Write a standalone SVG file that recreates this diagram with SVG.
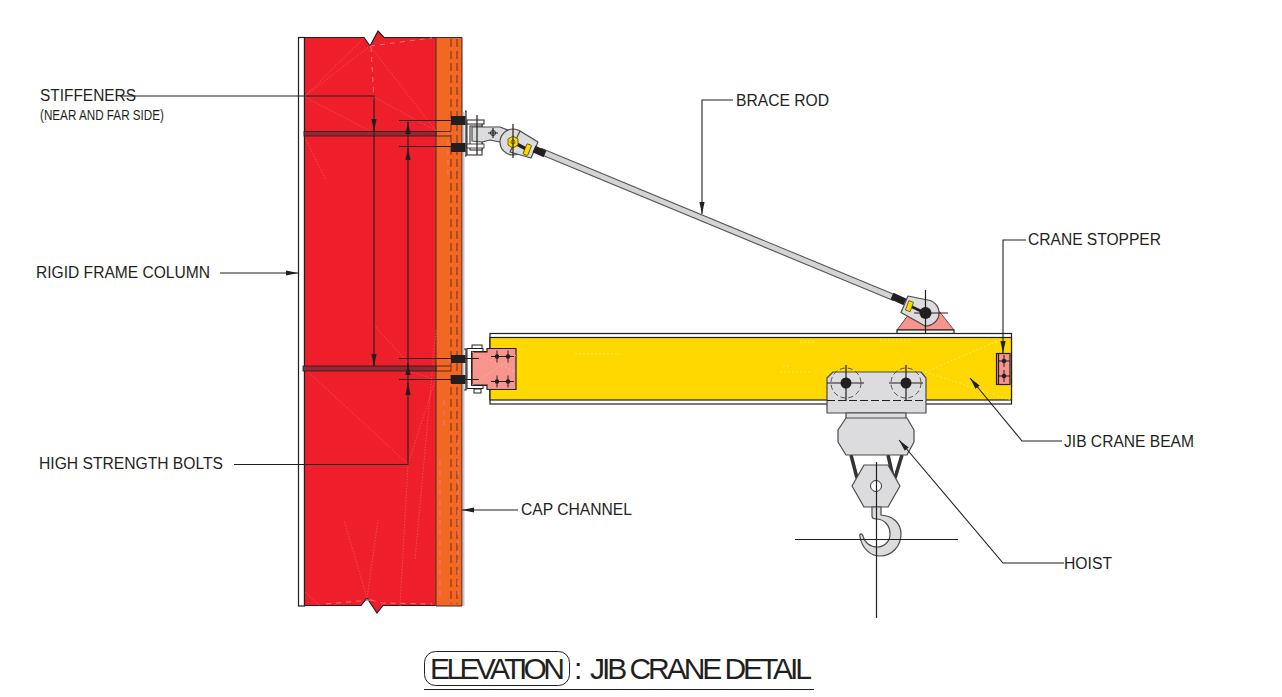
<svg xmlns="http://www.w3.org/2000/svg" width="1282" height="697" viewBox="0 0 1282 697">
<style>
text{font-family:"Liberation Sans",Arial,sans-serif;fill:#231f20}
.lab{font-size:16px}
.ttl{font-size:30px}
.k{fill:none;stroke:#231f20;stroke-width:1.2}
.o{stroke:#231f20;stroke-width:1.2}
.gr{fill:#dcdcde;stroke:#4a4a4a;stroke-width:1.2;stroke-linejoin:round}
.ghost{fill:none;stroke:#f7777c;stroke-width:1;stroke-dasharray:5 5}
.dot{fill:none;stroke:#f4555b;stroke-width:.8;stroke-dasharray:1.5 1.5}
.ygh{fill:none;stroke:#ffec80;stroke-width:.8;stroke-dasharray:2 2}
.bl{fill:#231f20}
.ch{fill:none;stroke:#b04d1c;stroke-width:2;stroke-dasharray:8 4}
</style>
<defs>
<marker id="a" viewBox="0 0 12 6" refX="12" refY="3" markerWidth="12" markerHeight="6" orient="auto" markerUnits="userSpaceOnUse"><path d="M0 .4L12 3L0 5.6Z" fill="#231f20"/></marker>
<g id="cross"><path d="M-6 0H6M0-6V6" stroke="#231f20" stroke-width="1" fill="none"/><circle r="2.2" fill="#231f20"/></g>
</defs>

<g id="column">
<rect x="463" y="112" width="1.5" height="494" fill="#c8c8c8"/>
<rect x="298.500" y="37.500" width="6" height="568.500" fill="#fff" class="o"/>
<path d="M304.500 37.500H364L370 46L378 31L384 37.500H436V605.500H383L377 613L367 598L361 605.500H304.500Z" fill="#ee1f2b" class="o"/>
<rect x="436" y="37.500" width="26" height="568.500" fill="#f26722"/>
<path d="M436 37.500V606" stroke="#8f3a2a" stroke-width="1.500"/>
<path d="M436 37.500H462V606H436" fill="none" stroke="#3a2a2a" stroke-width="1"/>
<path class="ch" d="M451 39V604"/>
<path class="ch" d="M457 39V604" stroke-width="1.500"/>
<path class="ghost" d="M370 46L432 38M371 47L374 100M371 600L382 603L432 604M371 600L325 604M448 130V180M444 400V430M440 460V600M458 440V600"/>
<path class="dot" d="M305 96L364 38M305 96L370 46M370 46L436 131M305 97L370 131M374 97L436 131M306 370L408 464M408 464L436 378M408 464L400 606M367 598L344 520M367 598L378 520M306 140L326 180M305 592L320 606M374 325L410 365M405 370L436 380M436 330L415 560"/>
<rect x="304" y="131.500" width="132" height="4.500" fill="#8f2a33" stroke="#231f20" stroke-width=".8"/>
<rect x="303" y="366" width="133" height="5" fill="#8f2a33" stroke="#231f20" stroke-width=".8"/>
</g>

<g id="top-connection">
<path d="M436 131.500H451M436 136H451" stroke="#231f20" stroke-width=".8"/>
<path class="k" d="M465 111H466V156H465" stroke-width="1.200"/>
<rect x="467" y="123" width="15" height="32" fill="#fff" stroke="#231f20"/>
<rect x="470" y="126" width="12" height="24" fill="#fff" stroke="#231f20" stroke-width="1"/>
<rect x="467" y="120" width="17" height="4" fill="#fff" stroke="#231f20" stroke-width="1"/>
<rect x="467" y="144" width="17" height="4" fill="#fff" stroke="#231f20" stroke-width=".8"/>
<path class="gr" d="M472 127H500L510 131L500 142L490 140L482 142L472 141Z" fill="#cfcfd2"/>
<rect x="451" y="116" width="14.500" height="9" class="bl"/>
<rect x="451" y="143" width="14.500" height="9" class="bl"/>
<circle cx="513" cy="142" r="13" class="gr"/>
<path class="gr" d="M520 131L538 142L531 158L510 152Z"/>
<path d="M513 142L528 150" stroke="#231f20" stroke-width="3.500"/>
<path d="M513 136L518 139V145L513 148L508 145V139Z" fill="#ffd600" stroke="#4a4a00" stroke-width=".8"/>
<circle cx="513" cy="142" r="2" fill="none" stroke="#4a4a00" stroke-width=".8"/>
<rect x="525" y="144" width="5" height="11" rx="1" fill="#ffd600" stroke="#4a4a00" stroke-width=".8" transform="rotate(22 527 149)"/>
<path d="M477 115V155M513 124V158" class="k" stroke-width="1"/>
<path class="k" d="M488 133H498M493 128V138" stroke-width="1"/>
<circle cx="493" cy="133" r="2.500" fill="none" stroke="#231f20" stroke-width="1"/>
</g>

<g id="brace-rod">
<path d="M540 151L895 298" stroke="#555" stroke-width="7"/>
<path d="M540 151L895 298" stroke="#d4d4d6" stroke-width="4.800"/>
<path d="M534 149L545 154" stroke="#231f20" stroke-width="7"/>
<path d="M892 296L905 302" stroke="#231f20" stroke-width="7"/>
</g>

<g id="gusset">
<path d="M897 330L915 306H935L954 330Z" fill="#f7958c" stroke="#4a2a2a" stroke-width=".8"/>
<rect x="897" y="330" width="57" height="3.500" fill="#fff" class="o"/>
<path class="gr" d="M925 299.500C934 300 939 306 939 313C939 321 932 326 925 326L918 322L901 312.500L908 296Z"/>
<path d="M908 305L925 313" stroke="#231f20" stroke-width="3"/>
<rect x="907" y="301" width="5" height="10" fill="#ffd600" stroke="#4a4a00" stroke-width=".7" transform="rotate(20 909 306)"/>
<circle cx="925.500" cy="313" r="6" class="bl"/>
<path class="k" d="M925.500 290V334M914 313H948" stroke-width="1"/>
</g>

<g id="beam">
<rect x="490" y="333.500" width="521.500" height="70.500" fill="#fff" class="o"/>
<rect x="490" y="337.500" width="521.500" height="62.500" fill="#ffd800" class="o"/>
<path class="ygh" d="M925 372L1000 340M925 372L1010 400M575 354H620M800 342H815M880 340H910M780 372H810M783 366H790"/>
<g id="stopper">
<rect x="996.500" y="353.500" width="13.500" height="31" fill="#f7958c" class="o"/>
<path d="M998.500 353.500V384.500" class="k" stroke-width=".8"/>
<use href="#cross" x="1004" y="361"/>
<use href="#cross" x="1004" y="376"/>
</g>
</g>

<g id="bottom-connection">
<path d="M464 349H466V390H464" class="k" stroke="#aaa"/>
<rect x="472" y="345" width="10" height="4" fill="#fff" stroke="#231f20" stroke-width="1"/>
<rect x="474" y="389" width="7" height="4" fill="#fff" stroke="#231f20" stroke-width="1"/>
<rect x="467" y="348.500" width="16" height="40" fill="#fff" stroke="#231f20"/>
<path d="M487 352H472V385H487" fill="#fff" stroke="#231f20" stroke-width="1.800"/>
<path d="M487 348.500H516V389.500H487V385H472V352H487Z" fill="#f7958c" class="o"/>
<path d="M472 352L516 372M472 385L516 355" stroke="#fbb7ae" stroke-width=".7" stroke-dasharray="2 2"/>
<use href="#cross" x="497" y="356.500"/>
<use href="#cross" x="508" y="356.500"/>
<use href="#cross" x="497" y="381.500"/>
<use href="#cross" x="508" y="381.500"/>
<path d="M436 366H451M436 371H451" stroke="#231f20" stroke-width=".8"/>
<rect x="451" y="355" width="14.500" height="8" class="bl"/>
<rect x="451" y="375" width="14.500" height="9" class="bl"/>
</g>

<g id="hoist">
<path d="M851 455L857 478M888 455L893 477M902 455L895 478" stroke="#333" stroke-width="3.500" fill="none"/>
<path class="gr" d="M833 372H921L926 378V413H827V378Z"/>
<path d="M827 400.500H926" stroke="#231f20" stroke-width="1" stroke-dasharray="8 3"/>
<circle cx="846" cy="383" r="15" fill="none" stroke="#444" stroke-width=".9" stroke-dasharray="5 3"/>
<circle cx="906" cy="383" r="15" fill="none" stroke="#444" stroke-width=".9" stroke-dasharray="5 3"/>
<circle cx="846" cy="383" r="5.500" class="bl"/>
<circle cx="906" cy="383" r="5.500" class="bl"/>
<path class="k" d="M827 383H864M846 365V401M889 383H923M906 365V401" stroke-width="1"/>
<path class="gr" d="M846 413H906V419H846Z"/>
<path class="gr" d="M846 418H907L914 430V442L907 455H846L838 442V430Z"/>
<path class="gr" d="M864 465H888L900 486L888 507H864L852 486Z"/>
<circle cx="876" cy="486" r="5.500" fill="#fff" stroke="#333"/>
<path class="gr" d="M872 507V516Q872 519 876 519C885 519 890 526 890 534C890 542 884 547 877 547C870 547 864 542 863 536C862 533 859 533 860 537C862 548 870 556 880 556C892 556 901 546 901 534C901 523 893 516 881 515V507Z"/>
<path d="M795 539.500H958M876.500 462V618" class="k"/>
</g>

<g id="connectors" fill="none" stroke="#231f20" stroke-width="1.100">
<path d="M120 96H374V366"/>
<path d="M374 119V131" marker-end="url(#a)"/>
<path d="M374 355V366" marker-end="url(#a)"/>
<path d="M234 464.500H408V122"/>
<path d="M408 134V122" marker-end="url(#a)"/>
<path d="M408 160V148" marker-end="url(#a)"/>
<path d="M408 375V363" marker-end="url(#a)"/>
<path d="M408 395V383" marker-end="url(#a)"/>
<path d="M399 120.500H451M399 146.500H451M399 358.500H479M399 379.500H479"/>
<path d="M220 273H298" marker-end="url(#a)"/>
<path d="M518 510H462" marker-end="url(#a)"/>
<path d="M733 100H702V214" marker-end="url(#a)"/>
<path d="M1026 240H1003V353" marker-end="url(#a)"/>
<path d="M1062 441H1022L970 378" marker-end="url(#a)"/>
<path d="M1064 563H1003L899 440" marker-end="url(#a)"/>
</g>

<g id="labels">
<text class="lab" x="40" y="101" textLength="96" lengthAdjust="spacingAndGlyphs">STIFFENERS</text>
<text x="40" y="120" font-size="15" textLength="124" lengthAdjust="spacingAndGlyphs">(NEAR AND FAR SIDE)</text>
<text class="lab" x="36" y="278" textLength="174" lengthAdjust="spacingAndGlyphs">RIGID FRAME COLUMN</text>
<text class="lab" x="39" y="469" textLength="184" lengthAdjust="spacingAndGlyphs">HIGH STRENGTH BOLTS</text>
<text class="lab" x="521" y="515" textLength="111" lengthAdjust="spacingAndGlyphs">CAP CHANNEL</text>
<text class="lab" x="736" y="106" textLength="93" lengthAdjust="spacingAndGlyphs">BRACE ROD</text>
<text class="lab" x="1028" y="245" textLength="133" lengthAdjust="spacingAndGlyphs">CRANE STOPPER</text>
<text class="lab" x="1064" y="447" textLength="130" lengthAdjust="spacingAndGlyphs">JIB CRANE BEAM</text>
<text class="lab" x="1064" y="569" textLength="48" lengthAdjust="spacingAndGlyphs">HOIST</text>
</g>

<g id="title">
<rect x="424.500" y="651.500" width="145" height="34" rx="11" fill="none" stroke="#231f20" stroke-width="1"/>
<text class="ttl" x="430" y="679" textLength="135" lengthAdjust="spacing">ELEVATION</text>
<text class="ttl" x="574" y="679">:</text>
<text class="ttl" x="590" y="679" textLength="222" lengthAdjust="spacing">JIB CRANE DETAIL</text>
<path d="M424 689.500H814" stroke="#231f20" stroke-width="1.200"/>
</g>
</svg>
